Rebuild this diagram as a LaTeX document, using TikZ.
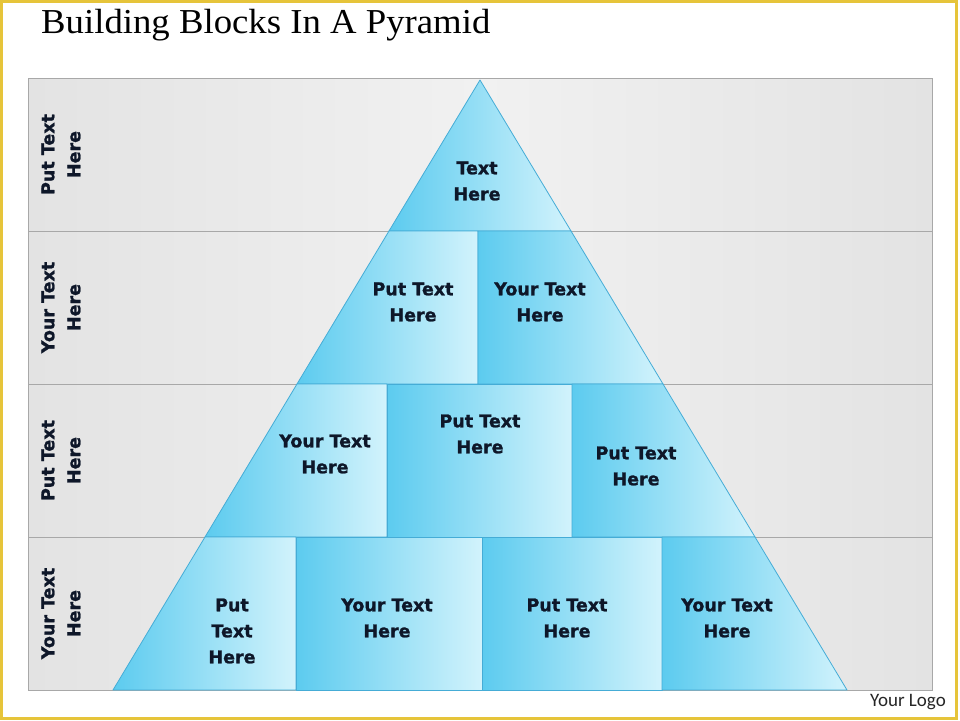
\documentclass[tikz,border=0pt]{standalone}
\usepackage{fontspec}
\setmainfont{Liberation Serif}
\newfontfamily\blkfont[BoldFeatures={FakeBold=1.3}]{DejaVu Sans}
\newfontfamily\logofont{Carlito}
\definecolor{bdark}{HTML}{5CCBEF}
\definecolor{blight}{HTML}{D2F3FC}
\definecolor{bedge}{HTML}{45ACD6}
\definecolor{txtc}{HTML}{0E1729}
\definecolor{framey}{HTML}{E6C43A}
\definecolor{panelg}{HTML}{E3E3E3}
\definecolor{panell}{HTML}{F1F1F1}
\definecolor{lineg}{HTML}{A8A8A8}
\begin{document}
\begin{tikzpicture}[x=1pt,y=-1pt,
  blockfill/.style={left color=bdark,right color=blight,draw=bedge,line width=0.8pt,line join=round},
  blocktxt/.style={font=\blkfont\bfseries\fontsize{17.5}{26}\selectfont,text=txtc,align=center,inner sep=0pt},
  sidetxt/.style={blocktxt,rotate=90},
  rowline/.style={draw=lineg,line width=0.8pt}]
\useasboundingbox (0,0) rectangle (960,720);
\fill[white] (0,0) rectangle (960,720);
% frame
\draw[framey,line width=3pt] (1.5,1.5) rectangle (956,718.5);
% title
\node[anchor=base west,inner sep=0pt,font=\fontsize{35}{40}\selectfont] (title) at (41,33) {\scalebox{1.05}[1]{Building Blocks In A Pyramid}};
% panel
\shade[left color=panelg,right color=panelg,middle color=panell] (28,78) rectangle (932,690);
\draw[rowline] (28,78) rectangle (932,690);
\draw[rowline] (28,231) -- (932,231);
\draw[rowline] (28,384) -- (932,384);
\draw[rowline] (28,537) -- (932,537);
% side labels
\node[sidetxt] (s1) at (61,154.5) {Put Text\\Here};
\node[sidetxt] (s2) at (61,307.5) {Your Text\\Here};
\node[sidetxt] (s3) at (61,460.5) {Put Text\\Here};
\node[sidetxt] (s4) at (61,613.5) {Your Text\\Here};
% row 1
\path[blockfill] (480,80) -- (571,231) -- (389,231) -- cycle;
% row 2
\path[blockfill] (389,231) -- (478,231) -- (478,384) -- (297,384) -- cycle;
\path[blockfill] (478,231) -- (571,231) -- (663,384) -- (478,384) -- cycle;
% row 3
\path[blockfill] (297,384) -- (387,384) -- (387,537) -- (205,537) -- cycle;
\path[blockfill] (387,384) rectangle (572,537);
\path[blockfill] (572,384) -- (663,384) -- (755,537) -- (572,537) -- cycle;
% row 4
\path[blockfill] (205,537) -- (296,537) -- (296,690) -- (113,690) -- cycle;
\path[blockfill] (296,537) rectangle (482,690);
\path[blockfill] (482,537) rectangle (662,690);
\path[blockfill] (662,537) -- (755,537) -- (847,690) -- (662,690) -- cycle;
% block texts
\node[blocktxt] (t1) at (477,181) {Text\\Here};
\node[blocktxt] (t21) at (413,302) {Put Text\\Here};
\node[blocktxt] (t22) at (540,302) {Your Text\\Here};
\node[blocktxt] (t31) at (325,454) {Your Text\\Here};
\node[blocktxt] (t32) at (480,434) {Put Text\\Here};
\node[blocktxt] (t33) at (636,466) {Put Text\\Here};
\node[blocktxt] (t41) at (232,631) {Put\\Text\\Here};
\node[blocktxt] (t42) at (387,618) {Your Text\\Here};
\node[blocktxt] (t43) at (567,618) {Put Text\\Here};
\node[blocktxt] (t44) at (727,618) {Your Text\\Here};
% logo
\node[anchor=base east,inner sep=0pt,font=\logofont\fontsize{19}{22}\selectfont,text=black!85] (logo) at (946,706) {Your Logo};
\end{tikzpicture}
\end{document}
